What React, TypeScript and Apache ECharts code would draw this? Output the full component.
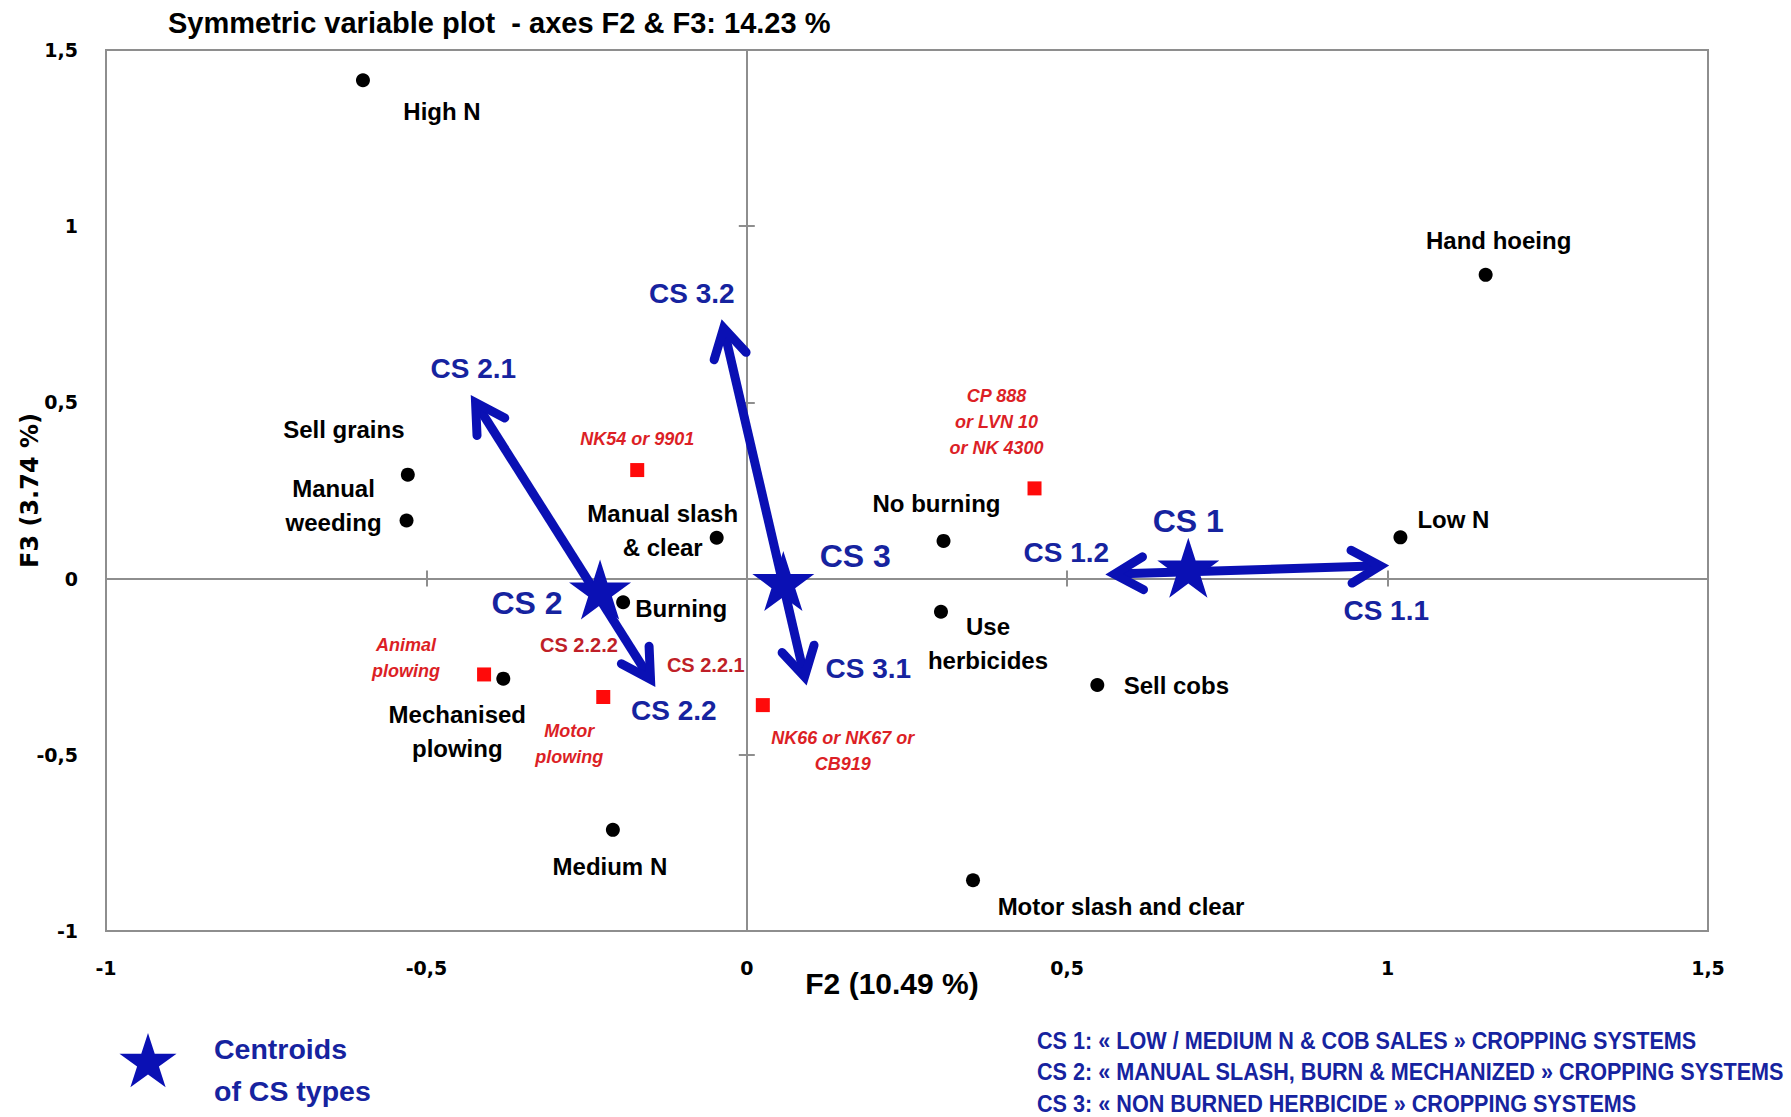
import React, { useEffect, useRef } from "react";
import * as echarts from "echarts";

// ---------- data ----------
const titleText = "Symmetric variable plot  - axes F2 & F3: 14.23 %";
const xAxisTitle = "F2 (10.49 %)";
const yAxisTitle = "F3 (3.74 %)";
const axisMin = -1;
const xAxisMax = 1.5;
const yAxisMax = 1.5;
const axisStep = 0.5;
const zeroLineTicks = [-0.5, 0.5, 1];

// practices (black dots)
const practiceNames = [
  "High N",
  "Hand hoeing",
  "Sell grains",
  "Manual\nweeding",
  "Manual slash\n& clear",
  "Burning",
  "Mechanised\nplowing",
  "Medium N",
  "No burning",
  "Use\nherbicides",
  "Sell cobs",
  "Motor slash and clear",
  "Low N",
];
const practiceF2 = [-0.599, 1.153, -0.529, -0.531, -0.047, -0.193, -0.38, -0.209, 0.307, 0.303, 0.547, 0.353, 1.02];
const practiceF3 = [1.414, 0.862, 0.295, 0.165, 0.116, -0.067, -0.284, -0.713, 0.107, -0.094, -0.302, -0.856, 0.117];

// varieties / plowing (red squares)
const varietyNames = [
  "NK54 or 9901",
  "CP 888\nor LVN 10\nor NK 4300",
  "Animal\nplowing",
  "Motor\nplowing",
  "NK66 or NK67 or\nCB919",
];
const varietyF2 = [-0.171, 0.449, -0.41, -0.224, 0.025];
const varietyF3 = [0.308, 0.256, -0.272, -0.336, -0.359];

// sub-type annotations (red text)
const subTypeNames = ["CS 2.2.2", "CS 2.2.1"];
const subTypeF2 = [-0.262, -0.064];
const subTypeF3 = [-0.188, -0.246];

// centroids (stars)
const centroidNames = ["CS 1", "CS 2", "CS 3"];
const centroidF2 = [0.689, -0.229, 0.057];
const centroidF3 = [0.031, -0.031, -0.007];

// double arrows between sub-types
const arrowStartNames = ["CS 2.1", "CS 3.2", "CS 1.2"];
const arrowStartF2 = [-0.43, -0.039, 0.561];
const arrowStartF3 = [0.519, 0.733, 0.012];
const arrowEndNames = ["CS 2.2", "CS 3.1", "CS 1.1"];
const arrowEndF2 = [-0.1435, 0.093, 1.001];
const arrowEndF3 = [-0.305, -0.301, 0.037];

const legendTypes = [
  "CS 1: « LOW / MEDIUM N & COB SALES » CROPPING SYSTEMS",
  "CS 2: « MANUAL SLASH, BURN & MECHANIZED » CROPPING SYSTEMS",
  "CS 3: « NON BURNED HERBICIDE » CROPPING SYSTEMS",
];
const legendCentroid = ["Centroids", "of CS types"];

// ---------- layout (label offsets in px) ----------
const practiceLabelOffsets = [
  [79, 31], [13, -34], [-64, -45], [-73, -15], [-54, -7], [58, 6], [-46, 53],
  [-3, 37], [-7, -37], [47, 32], [79, 0], [148, 26], [53, -18],
];
const varietyLabelOffsets = [[0, -31], [-38, -66], [-78, -16], [-34, 47], [80, 46]];
const centroidLabelOffsets = [[0, -47], [-73, 13], [72, -25]];
const arrowStartLabelOffsets = [[2, -27], [-30, -27], [-40, -22]];
const arrowEndLabelOffsets = [[19, 24], [62, -16], [-2, 45]];

const ARIAL = "'Liberation Sans', Arial, Helvetica, sans-serif";
const CALI = "'DejaVu Sans', 'Open Sans', sans-serif";
const BLUE = "#0a10b4";
const BLUE_TEXT = "#16239f";
const RED_SQ = "#ff0a0a";
const RED_TXT = "#dc1f26";
const RED_DARK = "#bf1f28";
const GREY = "#8e8e8e";

const STAR =
  "path://M50,0 L61.2,34.5 L97.6,34.5 L68.2,55.9 L79.4,90.5 L50,69.1 L20.6,90.5 L31.8,55.9 L2.4,34.5 L38.8,34.5 Z";

function starPoints(cx: number, cy: number, R: number) {
  const pts: number[][] = [];
  const r = R * 0.382;
  for (let i = 0; i < 10; i++) {
    const a = -Math.PI / 2 + (i * Math.PI) / 5;
    const rr = i % 2 === 0 ? R : r;
    pts.push([cx + rr * Math.cos(a), cy + rr * Math.sin(a)]);
  }
  return pts;
}

const fmt = (v: number) => String(v).replace(".", ",");

export default function App() {
  const ref = useRef<HTMLDivElement>(null);

  useEffect(() => {
    if (!ref.current) return;
    const chart = echarts.init(ref.current, null, { renderer: "svg" });

    const baseAxis = {
      type: "value" as const,
      min: axisMin,
      interval: axisStep,
      splitLine: { show: false },
    };

    const zeroAxis = (dim: "x" | "y", inside: boolean) => ({
      ...baseAxis,
      max: dim === "x" ? xAxisMax : yAxisMax,
      position: dim === "x" ? "bottom" : "left",
      axisLine: { show: true, onZero: true, onZeroAxisIndex: 0, lineStyle: { color: GREY, width: 2 } },
      axisTick: { show: true, inside, length: 8, customValues: zeroLineTicks, lineStyle: { color: GREY, width: 2 } },
      axisLabel: { show: false },
    });

    const practiceData = practiceNames.map((n, i) => ({
      name: n,
      value: [practiceF2[i], practiceF3[i]],
      label: { offset: practiceLabelOffsets[i] },
    }));
    const varietyData = varietyNames.map((n, i) => ({
      name: n,
      value: [varietyF2[i], varietyF3[i]],
      label: { offset: varietyLabelOffsets[i] },
    }));
    const subTypeData = subTypeNames.map((n, i) => ({ name: n, value: [subTypeF2[i], subTypeF3[i]] }));
    const centroidData = centroidNames.map((n, i) => ({
      name: n,
      value: [centroidF2[i], centroidF3[i]],
      label: { offset: centroidLabelOffsets[i] },
    }));
    const arrowData = arrowStartNames.map((_, i) => [arrowStartF2[i], arrowStartF3[i], arrowEndF2[i], arrowEndF3[i]]);
    const arrowLabelData = [
      ...arrowStartNames.map((n, i) => ({
        name: n,
        value: [arrowStartF2[i], arrowStartF3[i]],
        label: { offset: arrowStartLabelOffsets[i] },
      })),
      ...arrowEndNames.map((n, i) => ({
        name: n,
        value: [arrowEndF2[i], arrowEndF3[i]],
        label: { offset: arrowEndLabelOffsets[i] },
      })),
    ];

    const textLabel = (size: number, color: string, lh: number, italic = false) => ({
      show: true,
      position: "inside",
      formatter: "{b}",
      fontFamily: ARIAL,
      fontWeight: "bold",
      fontStyle: italic ? "italic" : "normal",
      fontSize: size,
      lineHeight: lh,
      color,
      opacity: 1,
      align: "center",
      verticalAlign: "middle",
    });

    const ARROW_W = 9;
    const HEAD_L = 33;
    const HEAD_A = 0.52;

    const hiddenMarker = { color: "rgba(0,0,0,0)", opacity: 1 };

    const option: any = {
      animation: false,
      grid: { left: 106, top: 50, width: 1602, height: 881, show: true, borderColor: GREY, borderWidth: 2, outerBoundsMode: "none", containLabel: false },
      xAxis: [
        {
          ...baseAxis,
          max: xAxisMax,
          position: "bottom",
          axisLine: { show: false, onZero: false },
          axisTick: { show: false },
          axisLabel: { formatter: fmt, fontFamily: CALI, fontWeight: "bold", fontSize: 19, color: "#000", margin: 27 },
          name: xAxisTitle,
          nameLocation: "middle",
          nameGap: 37,
          nameMoveOverlap: false,
          nameTextStyle: { fontFamily: ARIAL, fontWeight: "bold", fontSize: 30, color: "#000", padding: [0, 30, 0, 0] },
        },
        zeroAxis("x", true),
        zeroAxis("x", false),
      ],
      yAxis: [
        {
          ...baseAxis,
          max: yAxisMax,
          position: "left",
          axisLine: { show: false, onZero: false },
          axisTick: { show: false },
          axisLabel: { formatter: fmt, fontFamily: CALI, fontWeight: "bold", fontSize: 19, color: "#000", margin: 28 },
          name: yAxisTitle,
          nameLocation: "middle",
          nameGap: 64,
          nameMoveOverlap: false,
          nameTextStyle: { fontFamily: CALI, fontWeight: "bold", fontSize: 24, color: "#000" },
        },
        zeroAxis("y", true),
        zeroAxis("y", false),
      ],
      series: [
        {
          type: "custom",
          name: "arrows",
          coordinateSystem: "cartesian2d",
          encode: { x: [0, 2], y: [1, 3] },
          data: arrowData,
          z: 3,
          silent: true,
          renderItem: (_params: any, api: any) => {
            const a = api.coord([api.value(0), api.value(1)]);
            const b = api.coord([api.value(2), api.value(3)]);
            const dx = b[0] - a[0];
            const dy = b[1] - a[1];
            const len = Math.hypot(dx, dy);
            const ux = dx / len;
            const uy = dy / len;
            const pull = ARROW_W * 0.9;
            const ta = [a[0] + ux * pull, a[1] + uy * pull];
            const tb = [b[0] - ux * pull, b[1] - uy * pull];
            const head = (tip: number[], bx: number, by: number) => {
              const arm = (ang: number) => [
                tip[0] + HEAD_L * (bx * Math.cos(ang) - by * Math.sin(ang)),
                tip[1] + HEAD_L * (bx * Math.sin(ang) + by * Math.cos(ang)),
              ];
              return {
                type: "polyline",
                shape: { points: [arm(HEAD_A), tip, arm(-HEAD_A)] },
                style: { stroke: BLUE, lineWidth: ARROW_W, fill: null, lineCap: "round", lineJoin: "miter", miterLimit: 10 },
              };
            };
            return {
              type: "group",
              children: [
                {
                  type: "line",
                  shape: { x1: ta[0], y1: ta[1], x2: tb[0], y2: tb[1] },
                  style: { stroke: BLUE, lineWidth: ARROW_W, lineCap: "butt" },
                },
                head(ta, ux, uy),
                head(tb, -ux, -uy),
              ],
            };
          },
        },
        {
          type: "scatter",
          name: "practices",
          symbol: "circle",
          symbolSize: 14,
          itemStyle: { color: "#000", opacity: 1 },
          data: practiceData,
          label: textLabel(24, "#000", 34),
          z: 4,
        },
        {
          type: "scatter",
          name: "varieties",
          symbol: "rect",
          symbolSize: 14,
          itemStyle: { color: RED_SQ, opacity: 1 },
          data: varietyData,
          label: textLabel(18, RED_TXT, 26, true),
          z: 4,
        },
        {
          type: "scatter",
          name: "subtypes",
          symbol: "circle",
          symbolSize: 1,
          itemStyle: hiddenMarker,
          data: subTypeData,
          label: textLabel(20, RED_DARK, 24),
          z: 4,
        },
        {
          type: "scatter",
          name: "centroids",
          symbol: STAR,
          symbolSize: [62, 60],
          symbolKeepAspect: false,
          itemStyle: { color: BLUE, opacity: 1 },
          data: centroidData,
          label: textLabel(32, BLUE_TEXT, 36),
          z: 6,
        },
        {
          type: "scatter",
          name: "arrowLabels",
          symbol: "circle",
          symbolSize: 1,
          itemStyle: hiddenMarker,
          data: arrowLabelData,
          label: textLabel(28, BLUE_TEXT, 32),
          z: 5,
        },
      ],
      graphic: [
        {
          type: "text",
          left: 168,
          top: 8,
          style: { text: titleText, fontFamily: ARIAL, fontWeight: "bold", fontSize: 29, fill: "#000" },
        },
        {
          type: "polygon",
          shape: { points: starPoints(148, 1063, 30) },
          style: { fill: BLUE },
        },
        ...legendCentroid.map((t, i) => ({
          type: "text",
          x: 214,
          y: 1049 + i * 42,
          style: {
            text: t,
            fontFamily: ARIAL,
            fontWeight: "bold",
            fontSize: 28.5,
            fill: BLUE_TEXT,
            verticalAlign: "middle",
            align: "left",
          },
        })),
        ...legendTypes.map((t, i) => ({
          type: "text",
          x: 1037,
          y: 1041 + i * 31.4,
          scaleX: 0.94,
          style: {
            text: t,
            fontFamily: ARIAL,
            fontWeight: "bold",
            fontSize: 23,
            fill: BLUE_TEXT,
            verticalAlign: "middle",
            align: "left",
          },
        })),
      ],
    };

    chart.setOption(option);
    return () => chart.dispose();
  }, []);

  return (
    <div
      ref={ref}
      style={{ position: "absolute", left: 0, top: 0, width: 1791, height: 1117, background: "#fff" }}
    />
  );
}
